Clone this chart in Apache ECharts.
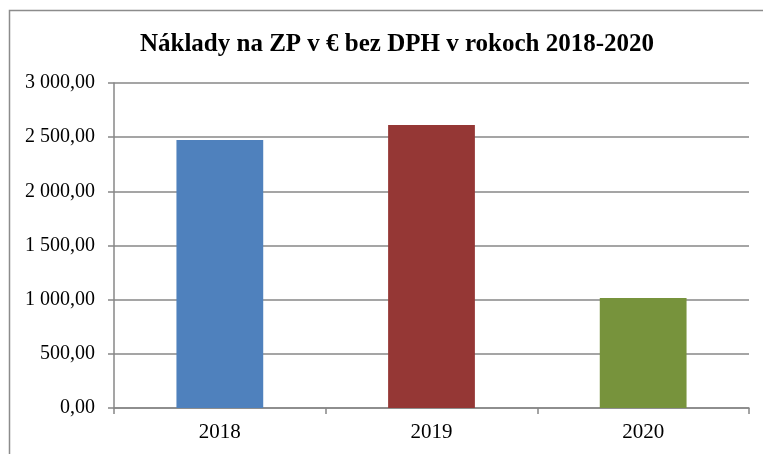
<!DOCTYPE html>
<html>
<head>
<meta charset="utf-8">
<title>Náklady na ZP</title>
<script src="https://cdn.jsdelivr.net/npm/echarts@6/dist/echarts.min.js"></script>
<style>
    html, body { margin: 0; padding: 0; background: #fff; }
    #chart { width: 763px; height: 454px; }
</style>
</head>
<body>
<div id="chart"></div>
<script>
// roky a naklady (odcitane z grafu)
var years = ['2018', '2019', '2020'];
var costs = [2474, 2612, 1015];
var barColors = ['#4F81BD', '#953735', '#77933C'];

// 3000 -> "3 000,00"
function fmt(v) {
    var parts = v.toFixed(2).split('.');
    var intPart = parts[0].replace(/\B(?=(\d{3})+(?!\d))/g, ' ');
    return intPart + ',' + parts[1];
}

var chart = echarts.init(document.getElementById('chart'));
var gray = '#878787';
var serif = '"Liberation Serif", "DejaVu Serif", serif';

chart.setOption({
    animation: false,
    backgroundColor: '#fff',
    title: {
        text: 'Náklady na ZP v € bez DPH v rokoch 2018-2020',
        left: 392,
        top: 27,
        textAlign: 'center',
        textStyle: {
            fontFamily: serif,
            fontWeight: 'bold',
            fontSize: 25,
            color: '#000'
        }
    },
    graphic: [{
        // ramcek okolo grafu
        type: 'rect',
        shape: { x: 9.5, y: 10.5, width: 780, height: 480 },
        style: { fill: 'none', stroke: '#8c8c8c', lineWidth: 1.5 },
        silent: true
    }],
    grid: {
        left: 114,
        right: 14,
        top: 83,
        bottom: 46
    },
    xAxis: {
        type: 'category',
        data: years,
        axisLine: { lineStyle: { color: gray, width: 1.5 } },
        axisTick: { show: true, length: 6, alignWithLabel: false, lineStyle: { color: gray, width: 1.5 } },
        axisLabel: {
            margin: 14,
            fontFamily: serif,
            fontSize: 21,
            color: '#000'
        }
    },
    yAxis: {
        type: 'value',
        min: 0,
        max: 3000,
        interval: 500,
        axisLine: { show: true, lineStyle: { color: gray, width: 1.5 } },
        axisTick: { show: true, length: 6, lineStyle: { color: gray, width: 1.5 } },
        splitLine: { lineStyle: { color: gray, width: 1.5 } },
        axisLabel: {
            margin: 19,
            fontFamily: serif,
            fontSize: 20,
            color: '#000',
            formatter: fmt
        }
    },
    series: [{
        type: 'bar',
        barCategoryGap: '59%',
        data: costs.map(function (v, i) {
            return { value: v, itemStyle: { color: barColors[i] } };
        })
    }]
});
</script>
</body>
</html>
